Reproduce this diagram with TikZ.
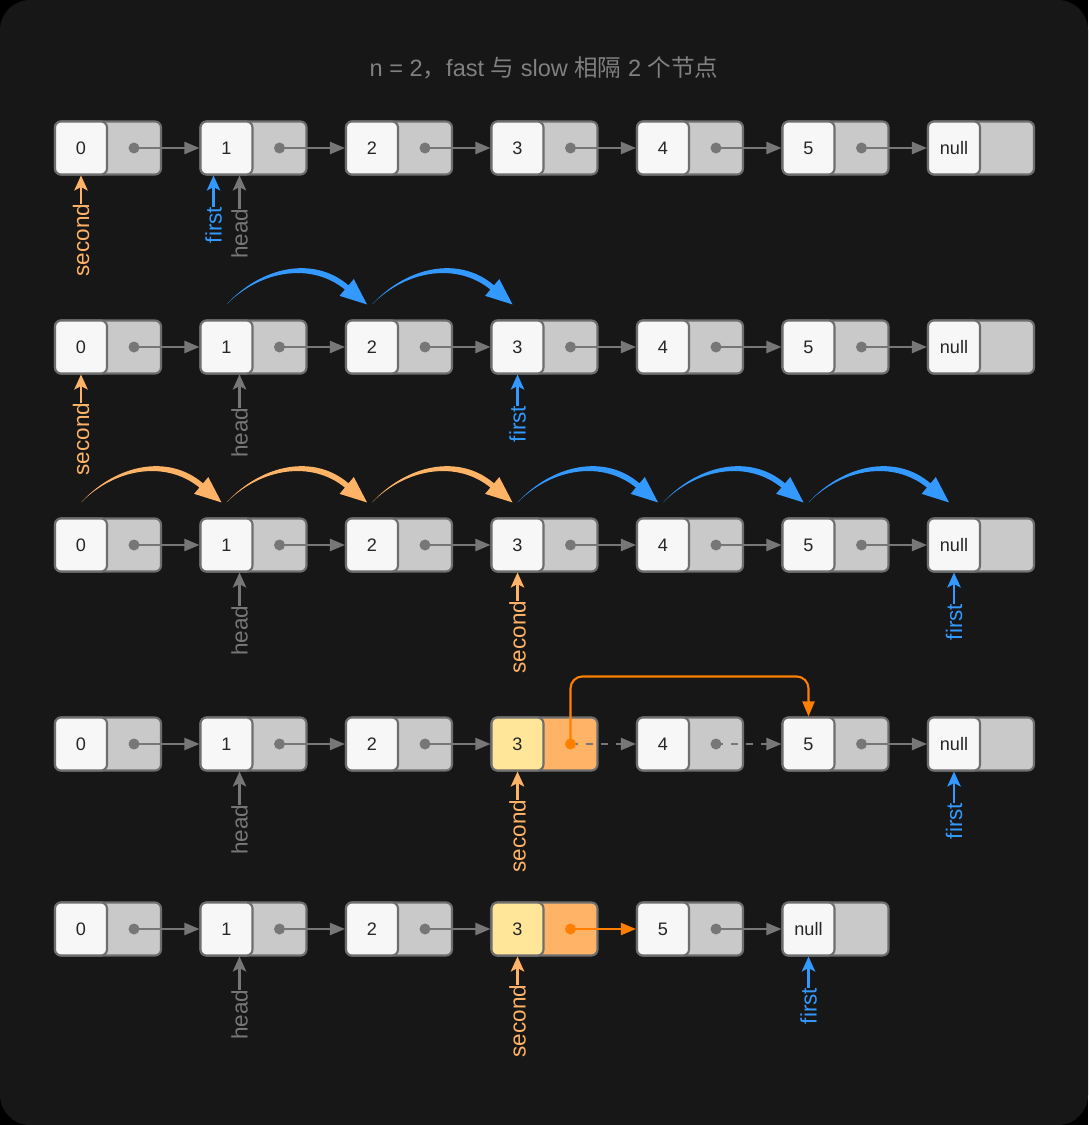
\documentclass[tikz,border=0pt]{standalone}
\usepackage{fontspec}
\setmainfont{Liberation Sans}
\newfontfamily\cjk{Noto Sans CJK SC}
\usetikzlibrary{arrows.meta,calc}

\definecolor{bgdark}{HTML}{171717}
\definecolor{boxline}{HTML}{6E6E6E}
\definecolor{valfill}{HTML}{F7F7F7}
\definecolor{ptrfill}{HTML}{C9C9C9}
\definecolor{linkgray}{HTML}{777777}
\definecolor{firstblue}{HTML}{3399FF}
\definecolor{secondorange}{HTML}{FFB366}
\definecolor{hotorange}{HTML}{FF8000}
\definecolor{valyellow}{HTML}{FFE699}
\definecolor{titlegray}{HTML}{808080}

% tapered hop arc above two cells: colour, from, to
\newcommand{\hoparc}[3]{%
  \coordinate (hs) at ($(#2.north)+(0,15)$);
  \coordinate (he) at ($(#3.north)+(-5,15)$);
  \coordinate (hm) at ($(he)+(-20.3,17)$);
  \fill[#1] (hs) .. controls +(35,38) and +(-35,30) .. ($(hm)+(1.8,2.1)$)
    -- ($(hm)+(7.1,8.4)$) -- (he) -- ($(hm)+(-7.1,-8.4)$)
    -- ($(hm)+(-1.8,-2.1)$) .. controls +(-33,27) and +(35,35) .. (hs) -- cycle;
}

\begin{document}
\begin{tikzpicture}[x=0.02cm, y=0.02cm,
    cell/.style={draw=boxline, line width=1.2pt, fill=ptrfill, rounded corners=0.12cm,
                 minimum width=2.12cm, minimum height=1.06cm, inner sep=0},
    val/.style={draw=boxline, line width=1.2pt, fill=valfill, rounded corners=0.12cm,
                minimum width=1.04cm, minimum height=1.06cm, inner sep=0, anchor=west,
                font=\fontsize{10.3}{12}\selectfont, text=black!85},
    hcell/.style={cell, fill=secondorange},
    hval/.style={val, fill=valyellow},
    link/.style={linkgray, line width=1.2pt, -{Triangle[length=0.3cm,width=0.24cm]}},
    dashlink/.style={link, dash pattern=on 0.14cm off 0.16cm},
    jump/.style={hotorange, line width=1.2pt, -{Triangle[length=0.3cm,width=0.24cm]}},
    lbl/.style={rotate=90, anchor=east, inner sep=0, font=\fontsize{12.8}{14}\selectfont},
    ptr/.style={line width=1.2pt, -{Stealth[length=0.3cm,width=0.27cm,inset=0.07cm]}}]

    % Background
    \fill[black] (0,0) rectangle (1088,-1125);
    \fill[bgdark, rounded corners=0.6cm] (0,0) rectangle (1088,-1125);
    \useasboundingbox (0,0) rectangle (1088,-1125);

    \node[font=\fontsize{13.4}{16}\selectfont, text=titlegray] (title) at (544,-68)
        {n = 2{\cjk ，}fast {\cjk 与} slow {\cjk 相隔} 2 {\cjk 个节点}};

    % Rows 1-3: full list 0 ... 5, null
    \foreach \r/\y in {1/148,2/347,3/545} {
        \foreach \i/\t in {0/0,1/1,2/2,3/3,4/4,5/5,6/null} {
            \node[cell] (c\r-\i) at ({108+145.5*\i},-\y) {};
            \node[val] (v\r-\i) at (c\r-\i.west) {\t};
        }
        \foreach \i/\j in {0/1,1/2,2/3,3/4,4/5,5/6} {
            \fill[linkgray] ($(c\r-\i)+(26,0)$) coordinate (d\r-\i) circle (5.5);
            \draw[link] (d\r-\i) -- (c\r-\j.west);
        }
    }

    % Row 4: node 3 skips node 4
    \foreach \i/\t in {0/0,1/1,2/2,4/4,5/5,6/null} {
        \node[cell] (c4-\i) at ({108+145.5*\i},-744) {};
        \node[val] (v4-\i) at (c4-\i.west) {\t};
    }
    \node[hcell] (c4-3) at (544.5,-744) {};
    \node[hval] (v4-3) at (c4-3.west) {3};
    \foreach \i in {0,1,2,4,5} {
        \fill[linkgray] ($(c4-\i)+(26,0)$) coordinate (d4-\i) circle (5.5);
    }
    \coordinate (d4-3) at ($(c4-3)+(26,0)$);
    \draw[link] (d4-0) -- (c4-1.west);
    \draw[link] (d4-1) -- (c4-2.west);
    \draw[link] (d4-2) -- (c4-3.west);
    \draw[dashlink] (d4-3) -- (c4-4.west);
    \draw[dashlink] (d4-4) -- (c4-5.west);
    \draw[link] (d4-5) -- (c4-6.west);
    \draw[jump, rounded corners=0.24cm] (d4-3) |- ($(v4-5.north)+(0,40)$) -- (v4-5.north);
    \fill[hotorange] (d4-3) circle (5.5);

    % Row 5: list after removal
    \foreach \i/\t in {0/0,1/1,2/2,4/5,5/null} {
        \node[cell] (c5-\i) at ({108+145.5*\i},-929) {};
        \node[val] (v5-\i) at (c5-\i.west) {\t};
    }
    \node[hcell] (c5-3) at (544.5,-929) {};
    \node[hval] (v5-3) at (c5-3.west) {3};
    \foreach \i/\j in {0/1,1/2,2/3,4/5} {
        \fill[linkgray] ($(c5-\i)+(26,0)$) coordinate (d5-\i) circle (5.5);
        \draw[link] (d5-\i) -- (c5-\j.west);
    }
    \coordinate (d5-3) at ($(c5-3)+(26,0)$);
    \draw[jump] (d5-3) -- (c5-4.west);
    \fill[hotorange] (d5-3) circle (5.5);

    % Hops of first and second
    \hoparc{firstblue}{v2-1}{v2-2}
    \hoparc{firstblue}{v2-2}{v2-3}
    \hoparc{secondorange}{v3-0}{v3-1}
    \hoparc{secondorange}{v3-1}{v3-2}
    \hoparc{secondorange}{v3-2}{v3-3}
    \hoparc{firstblue}{v3-3}{v3-4}
    \hoparc{firstblue}{v3-4}{v3-5}
    \hoparc{firstblue}{v3-5}{v3-6}

    % Pointer labels
    \node[lbl, text=secondorange] (s1) at ($(v1-0.south)+(0,-28)$) {second};
    \node[lbl, text=firstblue] (f1) at ($(v1-1.south)+(-13,-31)$) {first};
    \node[lbl, text=linkgray] (h1) at ($(v1-1.south)+(13,-33)$) {head};
    \node[lbl, text=secondorange] (s2) at ($(v2-0.south)+(0,-28)$) {second};
    \node[lbl, text=linkgray] (h2) at ($(v2-1.south)+(13,-33)$) {head};
    \node[lbl, text=firstblue] (f2) at ($(v2-3.south)+(0,-31)$) {first};
    \node[lbl, text=linkgray] (h3) at ($(v3-1.south)+(13,-33)$) {head};
    \node[lbl, text=secondorange] (s3) at ($(v3-3.south)+(0,-28)$) {second};
    \node[lbl, text=firstblue] (f3) at ($(v3-6.south)+(0,-31)$) {first};
    \node[lbl, text=linkgray] (h4) at ($(v4-1.south)+(13,-33)$) {head};
    \node[lbl, text=secondorange] (s4) at ($(v4-3.south)+(0,-28)$) {second};
    \node[lbl, text=firstblue] (f4) at ($(v4-6.south)+(0,-31)$) {first};
    \node[lbl, text=linkgray] (h5) at ($(v5-1.south)+(13,-33)$) {head};
    \node[lbl, text=secondorange] (s5) at ($(v5-3.south)+(0,-28)$) {second};
    \node[lbl, text=firstblue] (f5) at ($(v5-5.south)+(0,-31)$) {first};

    \foreach \p/\v/\c in {s1/v1-0/secondorange, f1/v1-1/firstblue, h1/v1-1/linkgray,
                          s2/v2-0/secondorange, h2/v2-1/linkgray, f2/v2-3/firstblue,
                          h3/v3-1/linkgray, s3/v3-3/secondorange, f3/v3-6/firstblue,
                          h4/v4-1/linkgray, s4/v4-3/secondorange, f4/v4-6/firstblue,
                          h5/v5-1/linkgray, s5/v5-3/secondorange, f5/v5-5/firstblue} {
        \draw[ptr, \c] (\p.east) -- (\p.east |- \v.south);
    }
\end{tikzpicture}
\end{document}
